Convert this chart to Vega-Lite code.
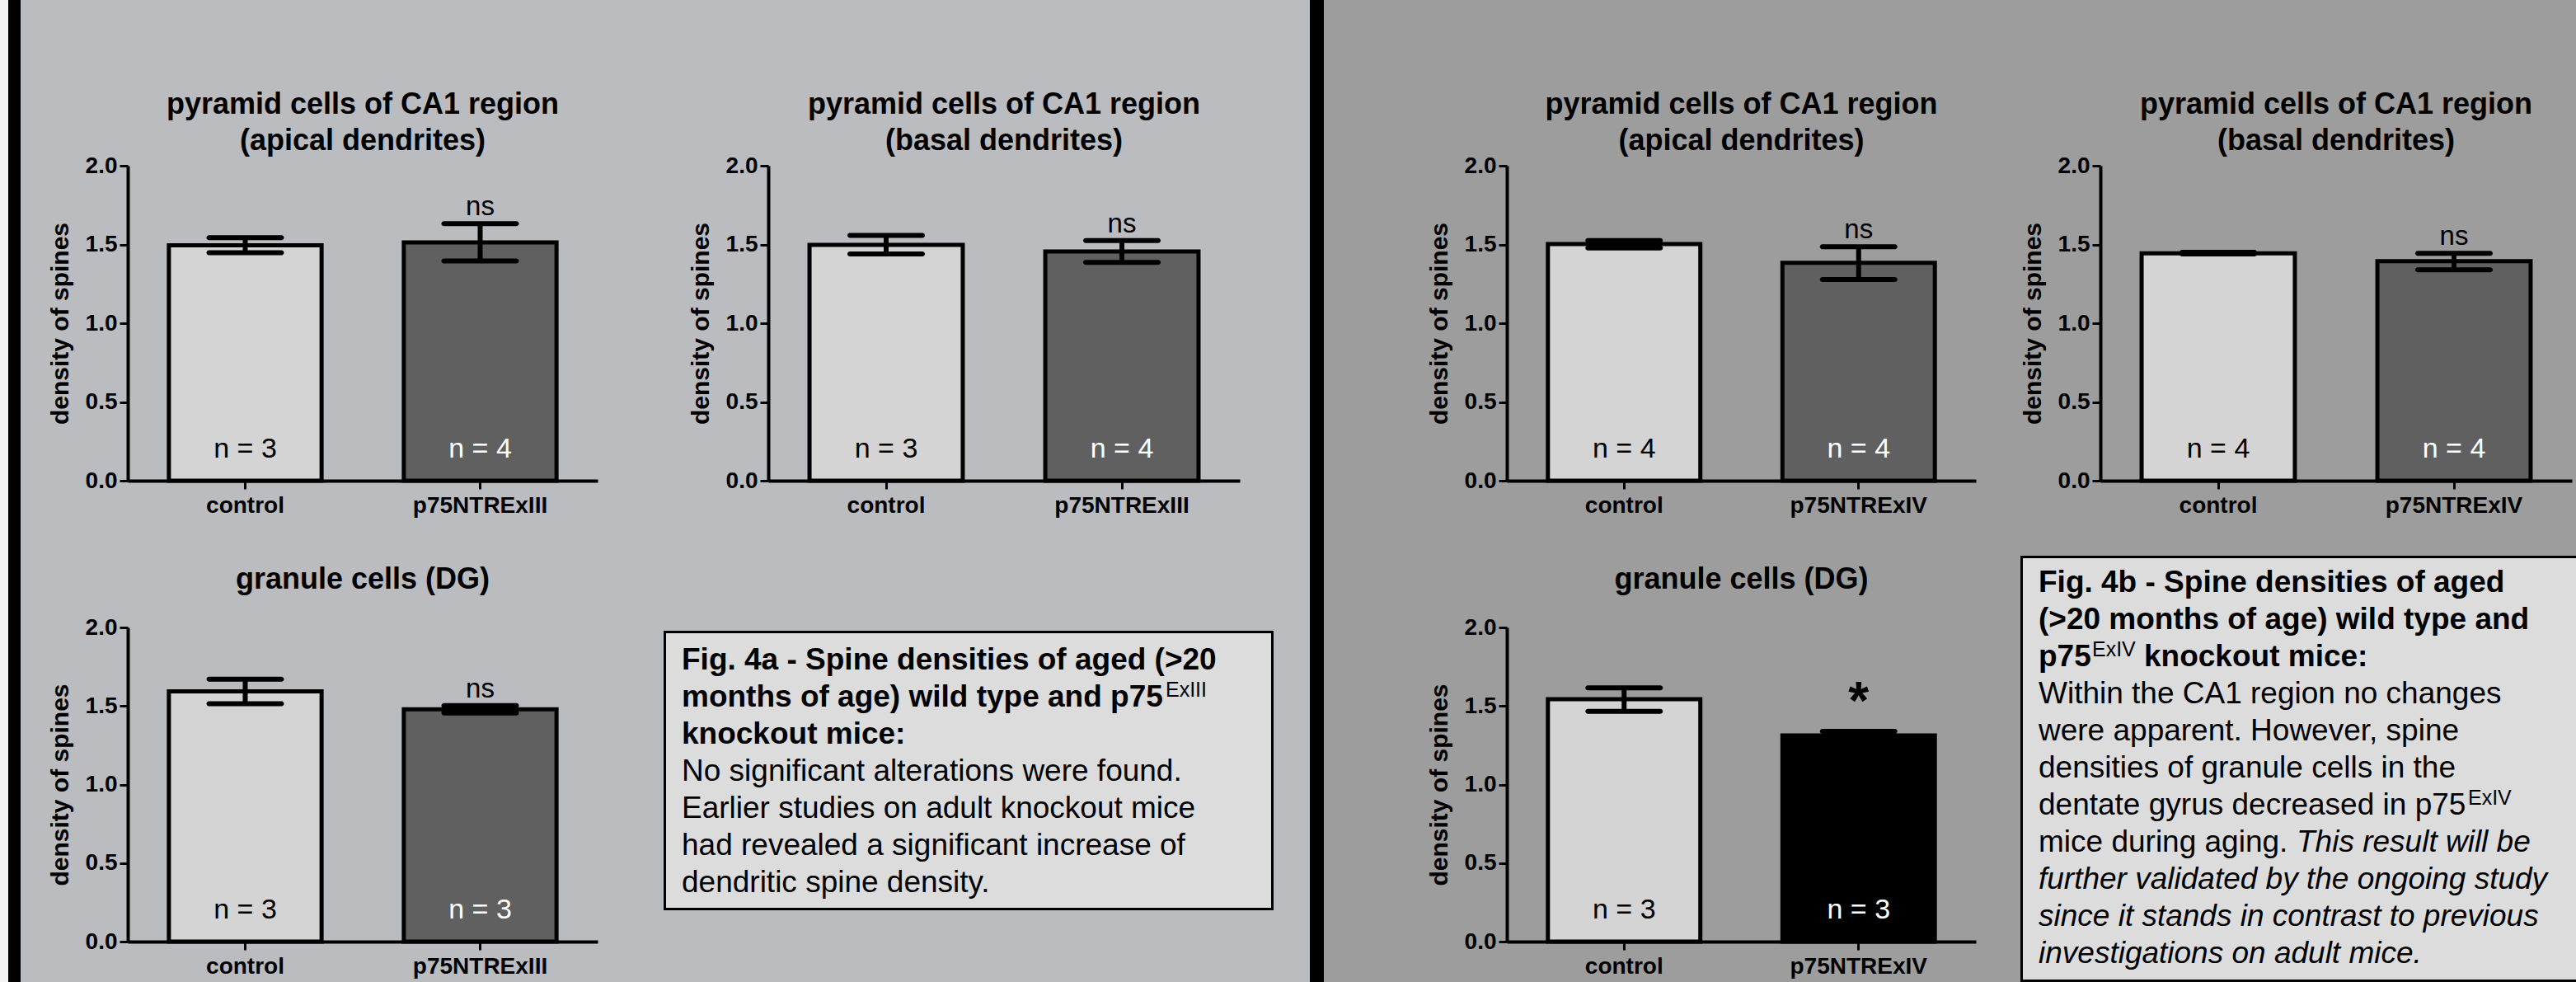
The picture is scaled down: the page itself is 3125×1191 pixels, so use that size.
{
"$schema": "https://vega.github.io/schema/vega-lite/v6.json",
"padding": 0,
"background": "#bbbcc0",
"config": {
  "concat": {"spacing": 0},
  "font": "Liberation Sans",
  "view": {"stroke": null},
  "axis": {"domainColor": "black", "domainWidth": 4, "tickColor": "black", "tickWidth": 3, "tickSize": 10, "labelColor": "black", "labelFontSize": 28, "labelFontWeight": "bold", "titleColor": "black", "titleFontSize": 30, "titleFontWeight": "bold", "grid": false, "labelPadding": 3},
  "axisX": {"labelPadding": 6, "labelAngle": 0},
  "axisY": {"titlePadding": 15},
  "title": {"fontSize": 36, "fontWeight": "bold", "color": "black", "lineHeight": 44, "frame": "group", "anchor": "middle"}
},
"datasets": {
  "bars": [
    {"panel": "p1", "group": "control", "mean": 1.495, "lo": 1.448, "hi": 1.543, "nlabel": "n = 3", "status": "control"},
    {"panel": "p1", "group": "p75NTRExIII", "mean": 1.513, "lo": 1.395, "hi": 1.632, "nlabel": "n = 4", "status": "ns"},
    {"panel": "p2", "group": "control", "mean": 1.498, "lo": 1.44, "hi": 1.558, "nlabel": "n = 3", "status": "control"},
    {"panel": "p2", "group": "p75NTRExIII", "mean": 1.455, "lo": 1.386, "hi": 1.525, "nlabel": "n = 4", "status": "ns"},
    {"panel": "p3", "group": "control", "mean": 1.593, "lo": 1.515, "hi": 1.67, "nlabel": "n = 3", "status": "control"},
    {"panel": "p3", "group": "p75NTRExIII", "mean": 1.479, "lo": 1.456, "hi": 1.502, "nlabel": "n = 3", "status": "ns"},
    {"panel": "p4", "group": "control", "mean": 1.502, "lo": 1.478, "hi": 1.525, "nlabel": "n = 4", "status": "control"},
    {"panel": "p4", "group": "p75NTRExIV", "mean": 1.384, "lo": 1.278, "hi": 1.486, "nlabel": "n = 4", "status": "ns"},
    {"panel": "p5", "group": "control", "mean": 1.444, "lo": 1.44, "hi": 1.45, "nlabel": "n = 4", "status": "control"},
    {"panel": "p5", "group": "p75NTRExIV", "mean": 1.394, "lo": 1.339, "hi": 1.444, "nlabel": "n = 4", "status": "ns"},
    {"panel": "p6", "group": "control", "mean": 1.543, "lo": 1.466, "hi": 1.615, "nlabel": "n = 3", "status": "control"},
    {"panel": "p6", "group": "p75NTRExIV", "mean": 1.312, "lo": 1.286, "hi": 1.338, "nlabel": "n = 3", "status": "*"}
  ],
  "boxa": [
    {"line": 1, "part": "heading", "text": "Fig. 4a - Spine densities of aged (>20"},
    {"line": 2, "part": "heading", "text": "months of age) wild type and p75"},
    {"line": 2, "part": "sup", "text": "ExIII"},
    {"line": 3, "part": "heading", "text": "knockout mice:"},
    {"line": 4, "part": "body", "text": "No significant alterations were found."},
    {"line": 5, "part": "body", "text": "Earlier studies on adult knockout mice"},
    {"line": 6, "part": "body", "text": "had revealed a significant increase of"},
    {"line": 7, "part": "body", "text": "dendritic spine density."}
  ],
  "boxb": [
    {"line": 1, "part": "heading", "text": "Fig. 4b - Spine densities of aged"},
    {"line": 2, "part": "heading", "text": "(>20 months of age) wild type and"},
    {"line": 3, "part": "heading", "text": "p75"},
    {"line": 3, "part": "sup1", "text": "ExIV"},
    {"line": 3, "part": "heading2", "text": "knockout mice:"},
    {"line": 4, "part": "body", "text": "Within the CA1 region no changes"},
    {"line": 5, "part": "body", "text": "were apparent. However, spine"},
    {"line": 6, "part": "body", "text": "densities of granule cells in the"},
    {"line": 7, "part": "body", "text": "dentate gyrus decreased in p75"},
    {"line": 7, "part": "sup2", "text": "ExIV"},
    {"line": 8, "part": "body", "text": "mice during aging."},
    {"line": 8, "part": "emph2", "text": "This result will be"},
    {"line": 9, "part": "emph", "text": "further validated by the ongoing study"},
    {"line": 10, "part": "emph", "text": "since it stands in contrast to previous"},
    {"line": 11, "part": "emph", "text": "investigations on adult mice."}
  ]
},
"hconcat": [
  {"width": 10, "height": 1191, "data": {"values": []}, "mark": "rect", "encoding": {}, "view": {"fill": "#f3f3f3", "stroke": null}},
  {"width": 15, "height": 1191, "data": {"values": []}, "mark": "rect", "encoding": {}, "view": {"fill": "#000000", "stroke": null}},
  {"vconcat": [
    {"width": 775, "height": 650, "view": {"fill": "#bbbcc0", "stroke": null},
     "title": {"text": ["pyramid cells of CA1 region", "(apical dendrites)"], "offset": -190, "dx": 27.5},
     "data": {"name": "bars"}, "transform": [{"filter": "datum.panel === 'p1'"}],
     "encoding": {"x": {"field": "group", "type": "nominal", "sort": null, "scale": {"range": [130, 700], "paddingInner": 0.35, "paddingOuter": 0.175}, "axis": {"title": null, "offset": -67}}},
     "layer": [
       {"mark": {"type": "bar", "stroke": "black", "strokeWidth": 5, "opacity": 1}, "encoding": {"y": {"field": "mean", "type": "quantitative", "scale": {"domain": [0, 2], "range": [583, 201], "nice": false}, "axis": {"title": "density of spines", "offset": -130, "values": [0, 0.5, 1, 1.5, 2], "format": ".1f"}}, "fill": {"field": "status", "type": "nominal", "scale": {"domain": ["control", "ns", "*"], "range": ["#d4d4d4", "#606060", "#000000"]}, "legend": null}}},
       {"mark": {"type": "rule", "strokeWidth": 6, "color": "black"}, "encoding": {"y": {"field": "lo", "type": "quantitative"}, "y2": {"field": "hi"}}},
       {"mark": {"type": "tick", "thickness": 6, "size": 94, "color": "black", "cornerRadius": 3, "opacity": 1}, "encoding": {"y": {"field": "hi", "type": "quantitative"}}},
       {"mark": {"type": "tick", "thickness": 6, "size": 94, "color": "black", "cornerRadius": 3, "opacity": 1}, "encoding": {"y": {"field": "lo", "type": "quantitative"}}},
       {"mark": {"type": "text", "fontSize": 34, "baseline": "alphabetic", "dy": -28}, "encoding": {"y": {"datum": 0}, "text": {"field": "nlabel"}, "color": {"condition": {"test": "datum.status === 'control'", "value": "black"}, "value": "white"}}},
       {"transform": [{"filter": "datum.status === 'ns'"}], "mark": {"type": "text", "fontSize": 33, "baseline": "alphabetic", "dy": -10, "color": "black"}, "encoding": {"y": {"field": "hi", "type": "quantitative"}, "text": {"field": "status"}}}
     ]},
    {"width": 775, "height": 541, "view": {"fill": "#bbbcc0", "stroke": null},
     "title": {"text": "granule cells (DG)", "offset": -72, "dx": 27.5},
     "data": {"name": "bars"}, "transform": [{"filter": "datum.panel === 'p3'"}],
     "encoding": {"x": {"field": "group", "type": "nominal", "sort": null, "scale": {"range": [130, 700], "paddingInner": 0.35, "paddingOuter": 0.175}, "axis": {"title": null, "offset": -49}}},
     "layer": [
       {"mark": {"type": "bar", "stroke": "black", "strokeWidth": 5, "opacity": 1}, "encoding": {"y": {"field": "mean", "type": "quantitative", "scale": {"domain": [0, 2], "range": [492, 111], "nice": false}, "axis": {"title": "density of spines", "offset": -130, "values": [0, 0.5, 1, 1.5, 2], "format": ".1f"}}, "fill": {"field": "status", "type": "nominal", "scale": {"domain": ["control", "ns", "*"], "range": ["#d4d4d4", "#606060", "#000000"]}, "legend": null}}},
       {"mark": {"type": "rule", "strokeWidth": 6, "color": "black"}, "encoding": {"y": {"field": "lo", "type": "quantitative"}, "y2": {"field": "hi"}}},
       {"mark": {"type": "tick", "thickness": 6, "size": 94, "color": "black", "cornerRadius": 3, "opacity": 1}, "encoding": {"y": {"field": "hi", "type": "quantitative"}}},
       {"mark": {"type": "tick", "thickness": 6, "size": 94, "color": "black", "cornerRadius": 3, "opacity": 1}, "encoding": {"y": {"field": "lo", "type": "quantitative"}}},
       {"mark": {"type": "text", "fontSize": 34, "baseline": "alphabetic", "dy": -28}, "encoding": {"y": {"datum": 0}, "text": {"field": "nlabel"}, "color": {"condition": {"test": "datum.status === 'control'", "value": "black"}, "value": "white"}}},
       {"transform": [{"filter": "datum.status === 'ns'"}], "mark": {"type": "text", "fontSize": 33, "baseline": "alphabetic", "dy": -10, "color": "black"}, "encoding": {"y": {"field": "hi", "type": "quantitative"}, "text": {"field": "status"}}}
     ]}
  ]},
  {"vconcat": [
    {"width": 789, "height": 650, "view": {"fill": "#bbbcc0", "stroke": null},
     "title": {"text": ["pyramid cells of CA1 region", "(basal dendrites)"], "offset": -190, "dx": 23.5},
     "data": {"name": "bars"}, "transform": [{"filter": "datum.panel === 'p2'"}],
     "encoding": {"x": {"field": "group", "type": "nominal", "sort": null, "scale": {"range": [132, 704], "paddingInner": 0.35, "paddingOuter": 0.175}, "axis": {"title": null, "offset": -67}}},
     "layer": [
       {"mark": {"type": "bar", "stroke": "black", "strokeWidth": 5, "opacity": 1}, "encoding": {"y": {"field": "mean", "type": "quantitative", "scale": {"domain": [0, 2], "range": [583, 201], "nice": false}, "axis": {"title": "density of spines", "offset": -132, "values": [0, 0.5, 1, 1.5, 2], "format": ".1f"}}, "fill": {"field": "status", "type": "nominal", "scale": {"domain": ["control", "ns", "*"], "range": ["#d4d4d4", "#606060", "#000000"]}, "legend": null}}},
       {"mark": {"type": "rule", "strokeWidth": 6, "color": "black"}, "encoding": {"y": {"field": "lo", "type": "quantitative"}, "y2": {"field": "hi"}}},
       {"mark": {"type": "tick", "thickness": 6, "size": 94, "color": "black", "cornerRadius": 3, "opacity": 1}, "encoding": {"y": {"field": "hi", "type": "quantitative"}}},
       {"mark": {"type": "tick", "thickness": 6, "size": 94, "color": "black", "cornerRadius": 3, "opacity": 1}, "encoding": {"y": {"field": "lo", "type": "quantitative"}}},
       {"mark": {"type": "text", "fontSize": 34, "baseline": "alphabetic", "dy": -28}, "encoding": {"y": {"datum": 0}, "text": {"field": "nlabel"}, "color": {"condition": {"test": "datum.status === 'control'", "value": "black"}, "value": "white"}}},
       {"transform": [{"filter": "datum.status === 'ns'"}], "mark": {"type": "text", "fontSize": 33, "baseline": "alphabetic", "dy": -10, "color": "black"}, "encoding": {"y": {"field": "hi", "type": "quantitative"}, "text": {"field": "status"}}}
     ]},
    {"vconcat": [
      {"width": 789, "height": 115, "data": {"values": []}, "mark": "rect", "encoding": {}, "view": {"fill": "#bbbcc0", "stroke": null}},
      {"hconcat": [
        {"width": 5, "height": 339, "data": {"values": []}, "mark": "rect", "encoding": {}, "view": {"fill": "#bbbcc0", "stroke": null}},
        {"vconcat": [
          {"width": 740, "height": 3, "data": {"values": []}, "mark": "rect", "encoding": {}, "view": {"fill": "#000000", "stroke": null}},
          {"hconcat": [
            {"width": 3, "height": 333, "data": {"values": []}, "mark": "rect", "encoding": {}, "view": {"fill": "#000000", "stroke": null}},
            {"width": 734, "height": 333, "view": {"fill": "#dcdcdc", "stroke": null},
             "data": {"name": "boxa"},
             "encoding": {
               "x": {"datum": 0, "type": "quantitative", "scale": {"domain": [0, 1], "range": [19, 734], "nice": false, "zero": false}, "axis": null},
               "y": {"field": "line", "type": "quantitative", "scale": {"domain": [1, 7], "range": [44, 314], "nice": false, "zero": false}, "axis": null},
               "text": {"field": "text"}
             },
             "layer": [
               {"transform": [{"filter": "datum.part === 'heading'"}], "mark": {"type": "text", "align": "left", "baseline": "alphabetic", "fontSize": 37, "fontWeight": "bold", "color": "black"}},
               {"transform": [{"filter": "datum.part === 'sup'"}], "mark": {"type": "text", "align": "left", "baseline": "alphabetic", "fontSize": 25, "dx": 587, "dy": -12, "color": "black"}},
               {"transform": [{"filter": "datum.part === 'body'"}], "mark": {"type": "text", "align": "left", "baseline": "alphabetic", "fontSize": 37, "color": "black"}}
             ]},
            {"width": 3, "height": 333, "data": {"values": []}, "mark": "rect", "encoding": {}, "view": {"fill": "#000000", "stroke": null}}
          ]},
          {"width": 740, "height": 3, "data": {"values": []}, "mark": "rect", "encoding": {}, "view": {"fill": "#000000", "stroke": null}}
        ]},
        {"width": 44, "height": 339, "data": {"values": []}, "mark": "rect", "encoding": {}, "view": {"fill": "#bbbcc0", "stroke": null}}
      ]},
      {"width": 789, "height": 87, "data": {"values": []}, "mark": "rect", "encoding": {}, "view": {"fill": "#bbbcc0", "stroke": null}}
    ]}
  ]},
  {"width": 17, "height": 1191, "data": {"values": []}, "mark": "rect", "encoding": {}, "view": {"fill": "#000000", "stroke": null}},
  {"vconcat": [
    {"width": 824, "height": 650, "view": {"fill": "#9d9d9d", "stroke": null},
     "title": {"text": ["pyramid cells of CA1 region", "(apical dendrites)"], "offset": -190, "dx": 94.5},
     "data": {"name": "bars"}, "transform": [{"filter": "datum.panel === 'p4'"}],
     "encoding": {"x": {"field": "group", "type": "nominal", "sort": null, "scale": {"range": [222, 791], "paddingInner": 0.35, "paddingOuter": 0.175}, "axis": {"title": null, "offset": -67}}},
     "layer": [
       {"mark": {"type": "bar", "stroke": "black", "strokeWidth": 5, "opacity": 1}, "encoding": {"y": {"field": "mean", "type": "quantitative", "scale": {"domain": [0, 2], "range": [583, 201], "nice": false}, "axis": {"title": "density of spines", "offset": -222, "values": [0, 0.5, 1, 1.5, 2], "format": ".1f"}}, "fill": {"field": "status", "type": "nominal", "scale": {"domain": ["control", "ns", "*"], "range": ["#d4d4d4", "#606060", "#000000"]}, "legend": null}}},
       {"mark": {"type": "rule", "strokeWidth": 6, "color": "black"}, "encoding": {"y": {"field": "lo", "type": "quantitative"}, "y2": {"field": "hi"}}},
       {"mark": {"type": "tick", "thickness": 6, "size": 94, "color": "black", "cornerRadius": 3, "opacity": 1}, "encoding": {"y": {"field": "hi", "type": "quantitative"}}},
       {"mark": {"type": "tick", "thickness": 6, "size": 94, "color": "black", "cornerRadius": 3, "opacity": 1}, "encoding": {"y": {"field": "lo", "type": "quantitative"}}},
       {"mark": {"type": "text", "fontSize": 34, "baseline": "alphabetic", "dy": -28}, "encoding": {"y": {"datum": 0}, "text": {"field": "nlabel"}, "color": {"condition": {"test": "datum.status === 'control'", "value": "black"}, "value": "white"}}},
       {"transform": [{"filter": "datum.status === 'ns'"}], "mark": {"type": "text", "fontSize": 33, "baseline": "alphabetic", "dy": -10, "color": "black"}, "encoding": {"y": {"field": "hi", "type": "quantitative"}, "text": {"field": "status"}}}
     ]},
    {"width": 824, "height": 541, "view": {"fill": "#9d9d9d", "stroke": null},
     "title": {"text": "granule cells (DG)", "offset": -72, "dx": 94.5},
     "data": {"name": "bars"}, "transform": [{"filter": "datum.panel === 'p6'"}],
     "encoding": {"x": {"field": "group", "type": "nominal", "sort": null, "scale": {"range": [222, 791], "paddingInner": 0.35, "paddingOuter": 0.175}, "axis": {"title": null, "offset": -49}}},
     "layer": [
       {"mark": {"type": "bar", "stroke": "black", "strokeWidth": 5, "opacity": 1}, "encoding": {"y": {"field": "mean", "type": "quantitative", "scale": {"domain": [0, 2], "range": [492, 111], "nice": false}, "axis": {"title": "density of spines", "offset": -222, "values": [0, 0.5, 1, 1.5, 2], "format": ".1f"}}, "fill": {"field": "status", "type": "nominal", "scale": {"domain": ["control", "ns", "*"], "range": ["#d4d4d4", "#606060", "#000000"]}, "legend": null}}},
       {"mark": {"type": "rule", "strokeWidth": 6, "color": "black"}, "encoding": {"y": {"field": "lo", "type": "quantitative"}, "y2": {"field": "hi"}}},
       {"mark": {"type": "tick", "thickness": 6, "size": 94, "color": "black", "cornerRadius": 3, "opacity": 1}, "encoding": {"y": {"field": "hi", "type": "quantitative"}}},
       {"mark": {"type": "tick", "thickness": 6, "size": 94, "color": "black", "cornerRadius": 3, "opacity": 1}, "encoding": {"y": {"field": "lo", "type": "quantitative"}}},
       {"mark": {"type": "text", "fontSize": 34, "baseline": "alphabetic", "dy": -28}, "encoding": {"y": {"datum": 0}, "text": {"field": "nlabel"}, "color": {"condition": {"test": "datum.status === 'control'", "value": "black"}, "value": "white"}}},
       {"transform": [{"filter": "datum.status === 'ns'"}], "mark": {"type": "text", "fontSize": 33, "baseline": "alphabetic", "dy": -10, "color": "black"}, "encoding": {"y": {"field": "hi", "type": "quantitative"}, "text": {"field": "status"}}},
       {"transform": [{"filter": "datum.status === '*'"}], "mark": {"type": "text", "fontSize": 64, "fontWeight": "bold", "baseline": "alphabetic", "dy": -15, "color": "black"}, "encoding": {"y": {"field": "hi", "type": "quantitative"}, "text": {"field": "status"}}}
     ]}
  ]},
  {"vconcat": [
    {"width": 695, "height": 650, "view": {"fill": "#9d9d9d", "stroke": null},
     "title": {"text": ["pyramid cells of CA1 region", "(basal dendrites)"], "offset": -190, "dx": 56.5},
     "data": {"name": "bars"}, "transform": [{"filter": "datum.panel === 'p5'"}],
     "encoding": {"x": {"field": "group", "type": "nominal", "sort": null, "scale": {"range": [118, 690], "paddingInner": 0.35, "paddingOuter": 0.175}, "axis": {"title": null, "offset": -67}}},
     "layer": [
       {"mark": {"type": "bar", "stroke": "black", "strokeWidth": 5, "opacity": 1}, "encoding": {"y": {"field": "mean", "type": "quantitative", "scale": {"domain": [0, 2], "range": [583, 201], "nice": false}, "axis": {"title": "density of spines", "offset": -118, "values": [0, 0.5, 1, 1.5, 2], "format": ".1f"}}, "fill": {"field": "status", "type": "nominal", "scale": {"domain": ["control", "ns", "*"], "range": ["#d4d4d4", "#606060", "#000000"]}, "legend": null}}},
       {"mark": {"type": "rule", "strokeWidth": 6, "color": "black"}, "encoding": {"y": {"field": "lo", "type": "quantitative"}, "y2": {"field": "hi"}}},
       {"mark": {"type": "tick", "thickness": 6, "size": 94, "color": "black", "cornerRadius": 3, "opacity": 1}, "encoding": {"y": {"field": "hi", "type": "quantitative"}}},
       {"mark": {"type": "tick", "thickness": 6, "size": 94, "color": "black", "cornerRadius": 3, "opacity": 1}, "encoding": {"y": {"field": "lo", "type": "quantitative"}}},
       {"mark": {"type": "text", "fontSize": 34, "baseline": "alphabetic", "dy": -28}, "encoding": {"y": {"datum": 0}, "text": {"field": "nlabel"}, "color": {"condition": {"test": "datum.status === 'control'", "value": "black"}, "value": "white"}}},
       {"transform": [{"filter": "datum.status === 'ns'"}], "mark": {"type": "text", "fontSize": 33, "baseline": "alphabetic", "dy": -10, "color": "black"}, "encoding": {"y": {"field": "hi", "type": "quantitative"}, "text": {"field": "status"}}}
     ]},
    {"vconcat": [
      {"width": 695, "height": 24, "data": {"values": []}, "mark": "rect", "encoding": {}, "view": {"fill": "#9d9d9d", "stroke": null}},
      {"hconcat": [
        {"width": 21, "height": 517, "data": {"values": []}, "mark": "rect", "encoding": {}, "view": {"fill": "#9d9d9d", "stroke": null}},
        {"vconcat": [
          {"width": 674, "height": 3, "data": {"values": []}, "mark": "rect", "encoding": {}, "view": {"fill": "#000000", "stroke": null}},
          {"hconcat": [
            {"width": 3, "height": 511, "data": {"values": []}, "mark": "rect", "encoding": {}, "view": {"fill": "#000000", "stroke": null}},
            {"width": 671, "height": 511, "view": {"fill": "#dcdcdc", "stroke": null},
             "data": {"name": "boxb"},
             "encoding": {
               "x": {"datum": 0, "type": "quantitative", "scale": {"domain": [0, 1], "range": [19, 671], "nice": false, "zero": false}, "axis": null},
               "y": {"field": "line", "type": "quantitative", "scale": {"domain": [1, 11], "range": [41, 491], "nice": false, "zero": false}, "axis": null},
               "text": {"field": "text"}
             },
             "layer": [
               {"transform": [{"filter": "datum.part === 'heading'"}], "mark": {"type": "text", "align": "left", "baseline": "alphabetic", "fontSize": 37, "fontWeight": "bold", "color": "black"}},
               {"transform": [{"filter": "datum.part === 'sup1'"}], "mark": {"type": "text", "align": "left", "baseline": "alphabetic", "fontSize": 25, "dx": 65, "dy": -12, "color": "black"}},
               {"transform": [{"filter": "datum.part === 'heading2'"}], "mark": {"type": "text", "align": "left", "baseline": "alphabetic", "fontSize": 37, "fontWeight": "bold", "dx": 128, "color": "black"}},
               {"transform": [{"filter": "datum.part === 'body'"}], "mark": {"type": "text", "align": "left", "baseline": "alphabetic", "fontSize": 37, "color": "black"}},
               {"transform": [{"filter": "datum.part === 'sup2'"}], "mark": {"type": "text", "align": "left", "baseline": "alphabetic", "fontSize": 25, "dx": 521, "dy": -12, "color": "black"}},
               {"transform": [{"filter": "datum.part === 'emph'"}], "mark": {"type": "text", "align": "left", "baseline": "alphabetic", "fontSize": 37, "fontStyle": "italic", "color": "black"}},
               {"transform": [{"filter": "datum.part === 'emph2'"}], "mark": {"type": "text", "align": "left", "baseline": "alphabetic", "fontSize": 37, "fontStyle": "italic", "dx": 313, "color": "black"}}
             ]}
          ]},
          {"width": 674, "height": 3, "data": {"values": []}, "mark": "rect", "encoding": {}, "view": {"fill": "#000000", "stroke": null}}
        ]}
      ]}
    ]}
  ]}
]
}
